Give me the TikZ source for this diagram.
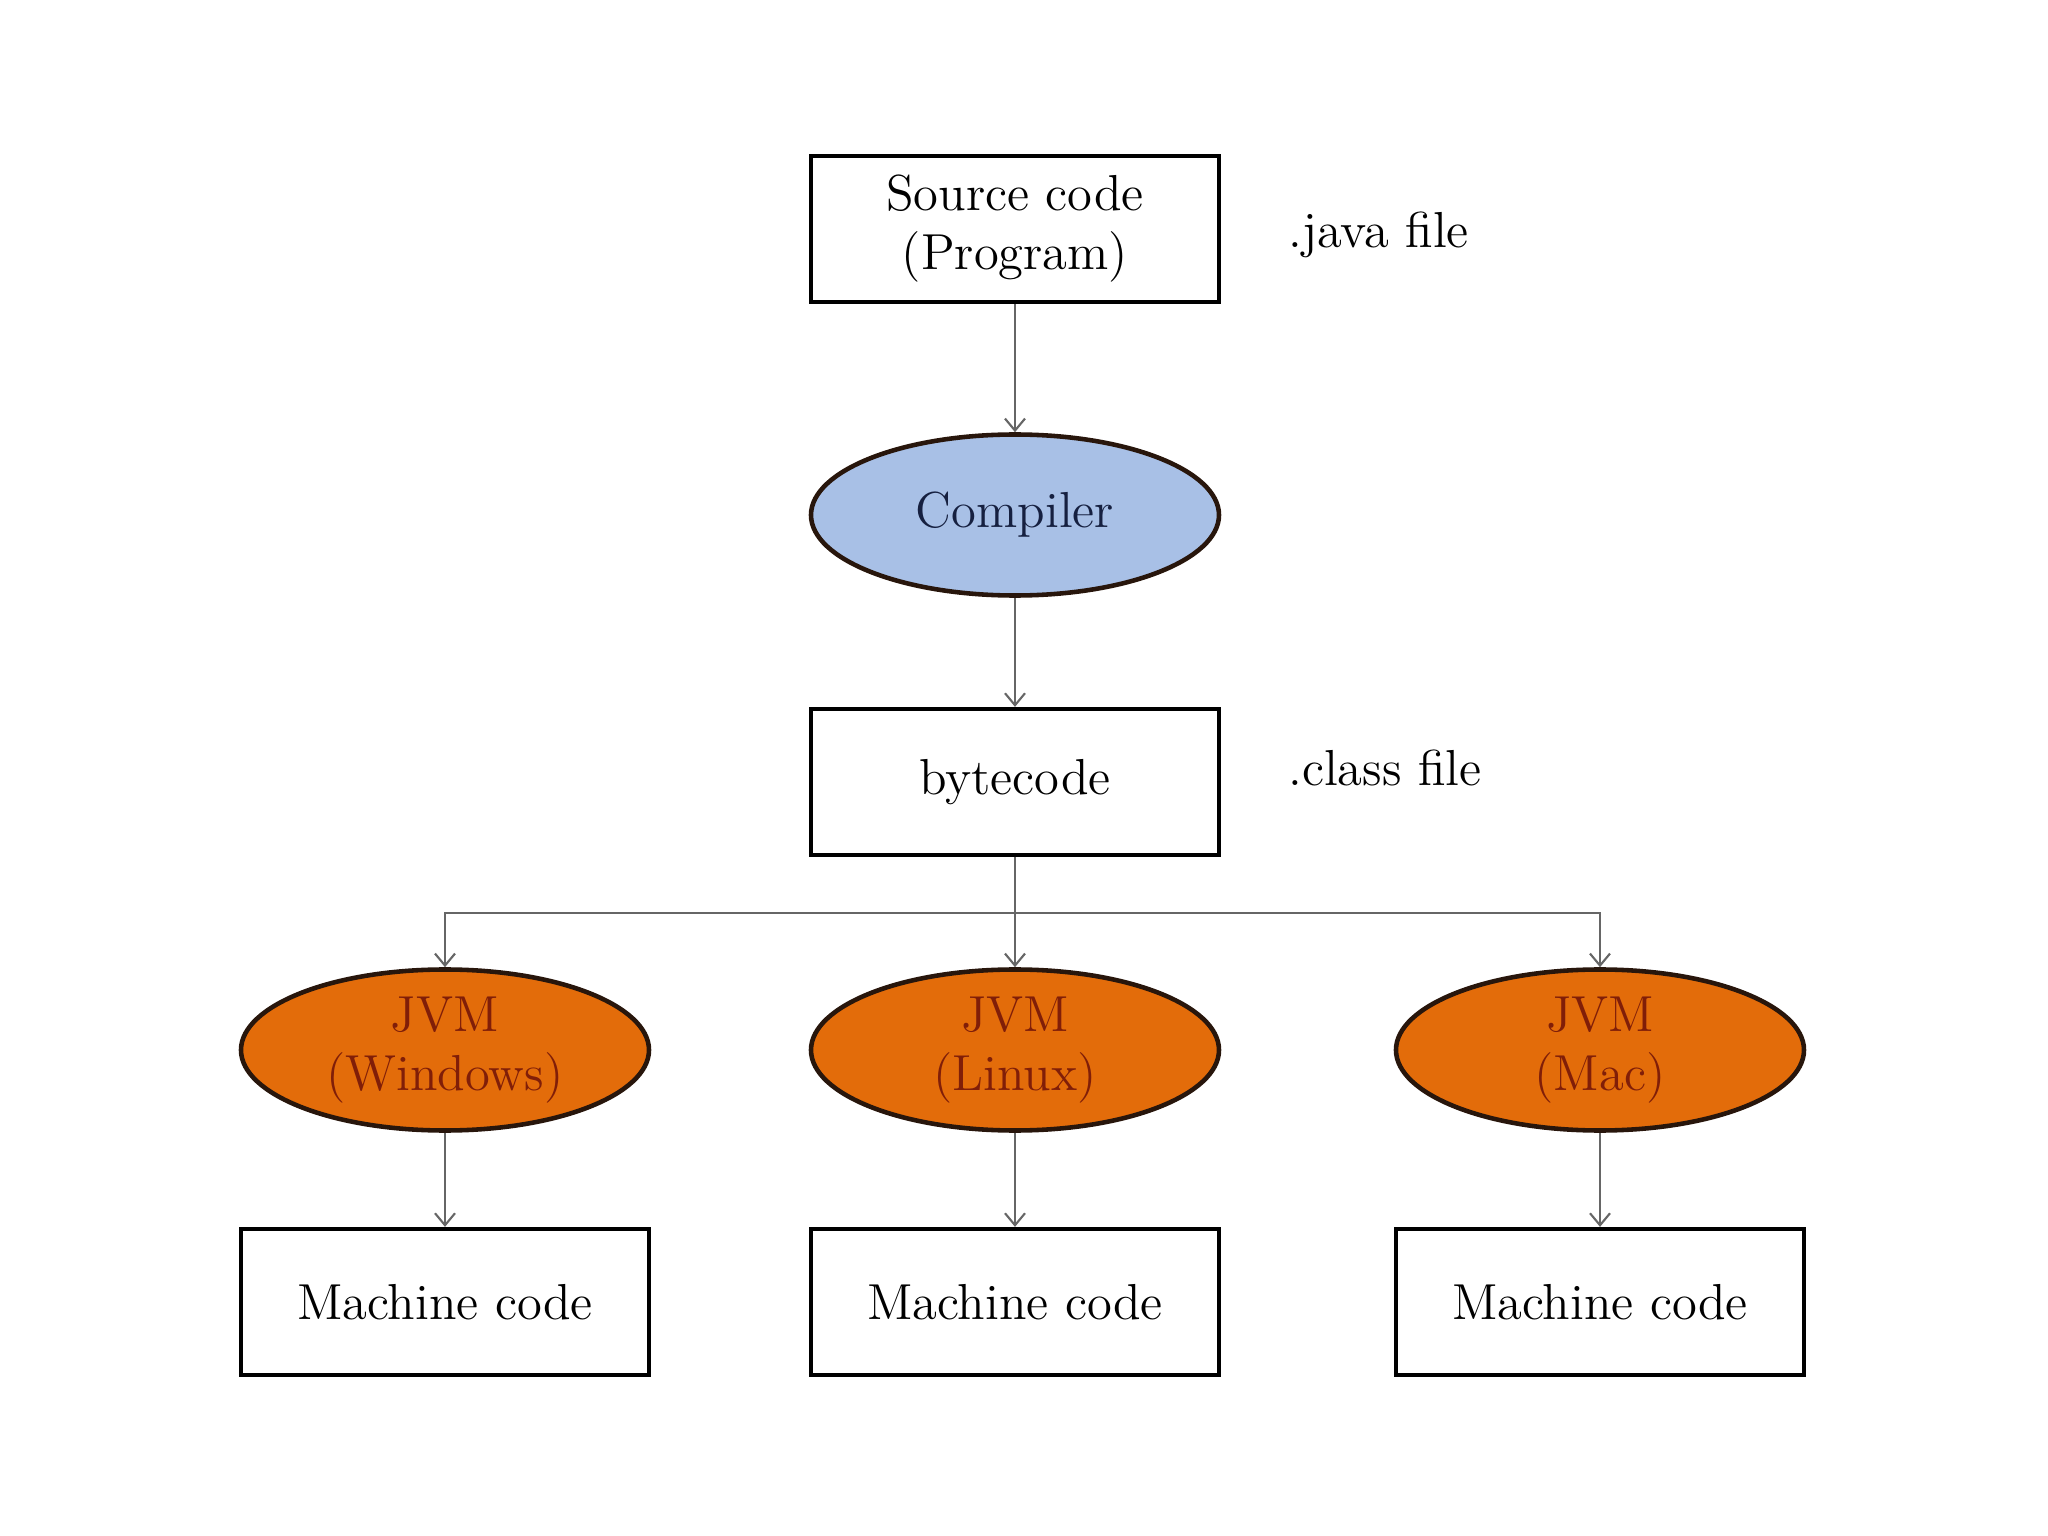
\documentclass[tikz,border=0pt]{standalone}
\usepackage{tikz}
\usetikzlibrary{arrows.meta,positioning,shapes.geometric}
\definecolor{compblue}{RGB}{168,192,230}
\definecolor{jvmorange}{RGB}{227,108,10}
\definecolor{jvmtext}{RGB}{128,30,8}
\definecolor{comptext}{RGB}{22,32,64}
\definecolor{edgedark}{RGB}{40,22,12}

\begin{document}
\begin{tikzpicture}[x=1cm,y=1cm,
  box/.style={draw=black, line width=1.2pt, fill=white, minimum width=4.08cm,
              minimum height=1.46cm, align=center, inner sep=2pt,
              font=\fontsize{14.4}{16.8}\selectfont},
  oval/.style={ellipse, draw=edgedark, line width=1.3pt, minimum width=4.08cm,
               minimum height=1.61cm, align=center, inner sep=1pt,
               font=\fontsize{14.4}{16.8}\selectfont},
  comp/.style={oval, fill=compblue, text=comptext},
  jvm/.style={oval, fill=jvmorange, text=jvmtext},
  arr/.style={-{Straight Barb[length=1.2mm,width=2mm]}, draw=black!60, line width=0.6pt},
  lab/.style={anchor=west, font=\fontsize{14.4}{16.8}\selectfont}]
% ---- page frame ----
\useasboundingbox (0,0) rectangle (20.48,-15.36);
\fill[white] (0,0) rectangle (20.48,-15.36);
% ---- main column ----
\node[box]  (src)  at (10.15,-2.29)  {Source code\\(Program)};
\node[comp] (comp) at (10.15,-5.15)  {Compiler};
\node[box]  (byte) at (10.15,-7.82)  {bytecode};
% ---- file labels ----
\node[lab]  (javalab)  at (12.76,-2.35) {.java file};
\node[lab]  (classlab) at (12.76,-7.68) {.class file};
% ---- JVM row ----
\node[jvm]  (jvmwin) at (4.45,-10.50)  {JVM\\(Windows)};
\node[jvm]  (jvmlin) at (10.15,-10.50) {JVM\\(Linux)};
\node[jvm]  (jvmmac) at (16.00,-10.50) {JVM\\(Mac)};
% ---- machine code row ----
\node[box]  (mcwin) at (4.45,-13.02)  {Machine code};
\node[box]  (mclin) at (10.15,-13.02) {Machine code};
\node[box]  (mcmac) at (16.00,-13.02) {Machine code};
% ---- arrows ----
\draw[arr] (src)  -- (comp);
\draw[arr] (comp) -- (byte);
\coordinate (split) at (10.15,-9.13);
\draw[arr] (byte) -- (jvmlin);
\draw[arr] (split) -| (jvmwin);
\draw[arr] (split) -| (jvmmac);
\draw[arr] (jvmwin) -- (mcwin);
\draw[arr] (jvmlin) -- (mclin);
\draw[arr] (jvmmac) -- (mcmac);
\end{tikzpicture}
\end{document}
